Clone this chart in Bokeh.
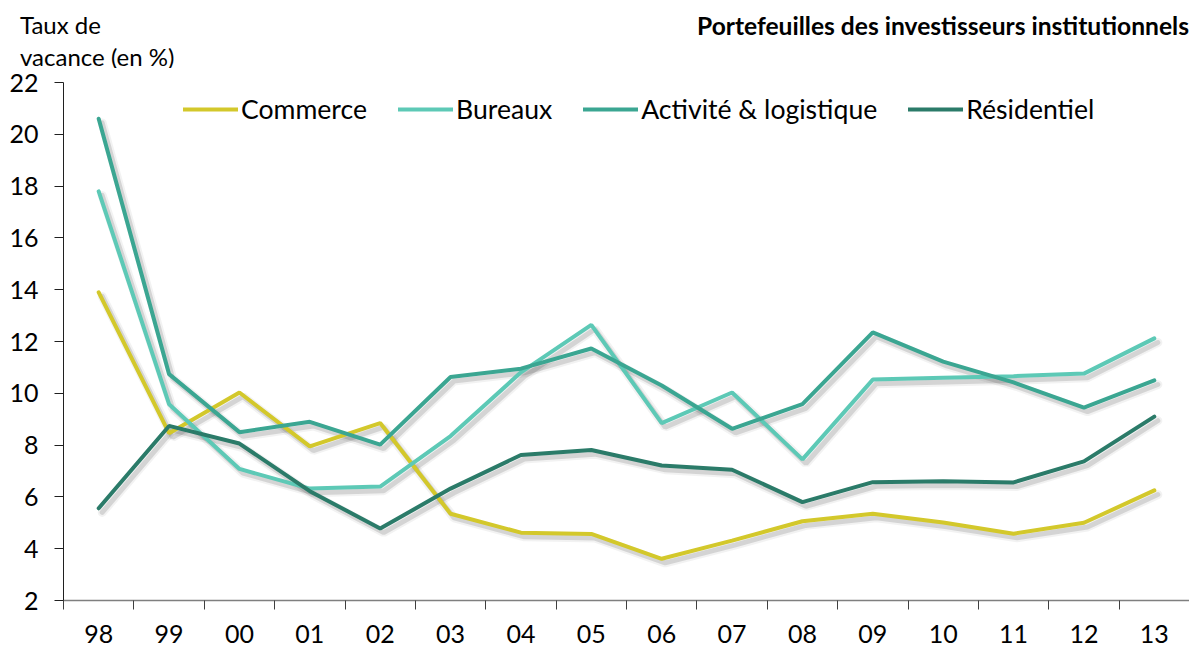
from bokeh.plotting import figure
from bokeh.models import (ColumnDataSource, Range1d, LinearAxis,
                          FixedTicker, Legend, LegendItem, Div)
from bokeh.layouts import column
from bokeh.transform import dodge
from bokeh.embed import file_html
from bokeh.resources import INLINE

years = ["98", "99", "00", "01", "02", "03", "04", "05", "06", "07", "08", "09", "10", "11", "12", "13"]
commerce = [13.9, 8.46, 10.03, 7.95, 8.85, 5.35, 4.62, 4.57, 3.61, 4.31, 5.06, 5.35, 5.01, 4.58, 5.0, 6.25]
bureaux = [17.8, 9.58, 7.08, 6.32, 6.4, 8.35, 10.81, 12.64, 8.85, 10.03, 7.45, 10.53, 10.6, 10.66, 10.76, 12.12]
activite = [20.6, 10.74, 8.5, 8.9, 8.02, 10.63, 10.95, 11.73, 10.3, 8.63, 9.58, 12.35, 11.22, 10.42, 9.45, 10.5]
residentiel = [5.56, 8.74, 8.06, 6.22, 4.78, 6.32, 7.62, 7.81, 7.21, 7.05, 5.8, 6.57, 6.6, 6.56, 7.37, 9.1]
y_ticks = [2, 4, 6, 8, 10, 12, 14, 16, 18, 20, 22]

series = [
    ("Commerce", commerce, "#D3C82B"),
    ("Bureaux", bureaux, "#5DC9B6"),
    ("Activité & logistique", activite, "#3BA692"),
    ("Résidentiel", residentiel, "#2B7B69"),
]

y_title = ["Taux de", "vacance (en %)"]
chart_title = "Portefeuilles des investisseurs institutionnels"

FONT = "Lato"
n = len(years)
xpos = list(range(n))

HEADER_H = 68
p = figure(width=1189, height=646 - HEADER_H, x_range=Range1d(-0.5, n - 0.5), y_range=Range1d(2, 22),
           output_backend="svg", toolbar_location=None, x_axis_location=None,
           y_axis_location=None, min_border_left=63, min_border_right=0,
           min_border_top=82 - HEADER_H, min_border_bottom=46)
p.grid.visible = False
p.outline_line_color = None
p.background_fill_color = "white"

# y axis
yax = LinearAxis(ticker=FixedTicker(ticks=y_ticks))
yax.axis_line_color = "#202020"
yax.major_tick_line_color = "#202020"
yax.major_tick_out = 9
yax.major_tick_in = 0
yax.minor_tick_line_color = None
yax.major_label_text_font = FONT
yax.major_label_text_font_size = "25px"
yax.major_label_text_color = "black"
yax.major_label_standoff = 16
p.add_layout(yax, "left")

# x axis: labels at category centres, tick marks (minor) at category boundaries
xax = LinearAxis(ticker=FixedTicker(ticks=xpos, minor_ticks=[i - 0.5 for i in range(n + 1)]),
                 major_label_overrides={i: y for i, y in enumerate(years)})
xax.axis_line_color = "#7F7F7F"
xax.axis_line_width = 1.5
xax.major_tick_line_color = None
xax.major_tick_out = 9
xax.major_tick_in = 0
xax.minor_tick_line_color = "#404040"
xax.minor_tick_out = 9
xax.minor_tick_in = 0
xax.major_label_text_font = FONT
xax.major_label_text_font_size = "25px"
xax.major_label_text_color = "black"
xax.major_label_standoff = 15
p.add_layout(xax, "below")

srcs = []
for name, vals, color in series:
    src = ColumnDataSource(dict(x=xpos, y=vals))
    p.line(x=dodge("x", 0.05), y=dodge("y", -0.16), source=src,
           line_width=9, line_color="#000000", line_alpha=0.05, line_cap="round")
    p.line(x=dodge("x", 0.05), y=dodge("y", -0.16), source=src,
           line_width=5, line_color="#000000", line_alpha=0.12, line_cap="round")
    srcs.append((name, src, color))

items = []
for name, src, color in srcs:
    r = p.line(x="x", y="y", source=src, line_width=4, line_color=color, line_cap="round")
    items.append(LegendItem(label=name, renderers=[r]))

legend = Legend(items=items, orientation="horizontal", location=(120, 475),
                glyph_width=55, glyph_height=20, label_standoff=3, spacing=31,
                padding=0, margin=0, border_line_color=None, background_fill_alpha=0,
                label_text_font=FONT, label_text_font_size="26.6px", label_text_color="black")
p.add_layout(legend, "center")

header_html = (
    f'<div style="position:relative;width:1189px;height:{HEADER_H}px;overflow:hidden;'
    'font-family:Lato;color:black;">'
    f'<span style="position:absolute;left:20px;top:13px;font-size:24px;line-height:24px;white-space:nowrap;">{y_title[0]}</span>'
    f'<span style="position:absolute;left:20px;top:47px;font-size:24px;line-height:20px;white-space:nowrap;">{y_title[1]}</span>'
    f'<span style="position:absolute;left:697px;top:12px;font-size:24.6px;font-weight:bold;line-height:28px;white-space:nowrap;">{chart_title}</span>'
    '</div>'
)
header = Div(text=header_html, width=1189, height=HEADER_H, margin=0)

layout = column(header, p, spacing=0, margin=0)

open("out.html", "w").write(file_html(layout, INLINE))
